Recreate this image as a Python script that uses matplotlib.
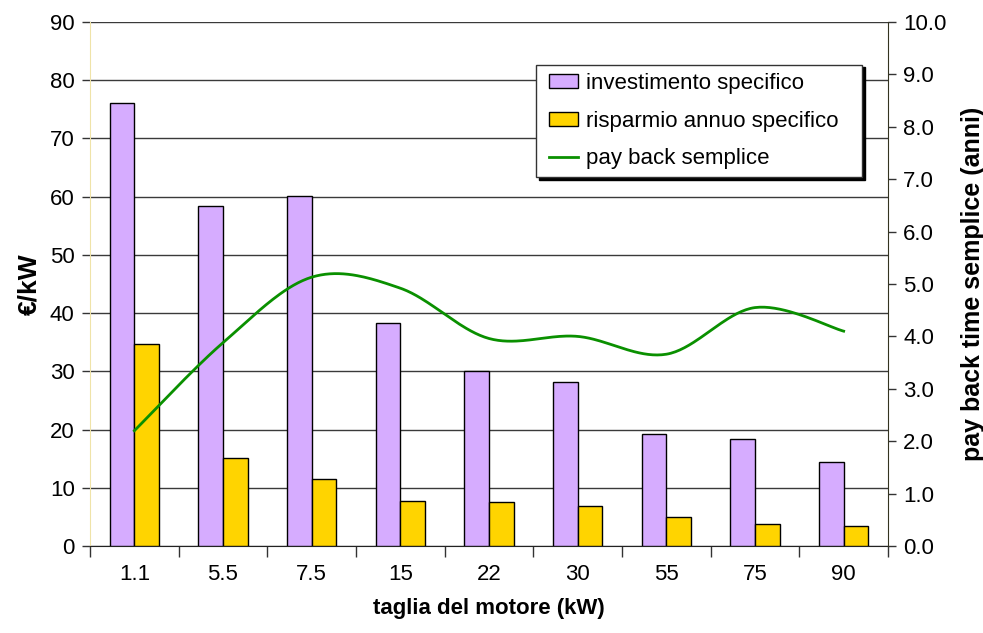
import numpy as np
import matplotlib as mpl
mpl.use("Agg")
from matplotlib import pyplot as plt
from matplotlib.patches import Patch, Rectangle
from matplotlib.lines import Line2D

plt.rcParams['font.family'] = ['Liberation Sans', 'DejaVu Sans']

# motor sizes (kW)
taglie = ["1.1", "5.5", "7.5", "15", "22", "30", "55", "75", "90"]
# specific investment and specific annual saving (EUR/kW)
investimento = [76.1, 58.4, 60.1, 38.3, 30.1, 28.1, 19.2, 18.4, 14.5]
risparmio = [34.7, 15.1, 11.5, 7.7, 7.5, 6.8, 5.0, 3.8, 3.5]
# simple pay back time (years)
payback = [2.2, 3.88, 5.13, 4.92, 3.96, 4.0, 3.66, 4.55, 4.1]

col_inv = "#D6ACFF"
col_ris = "#FFD400"
col_pb = "#0A9000"

W, H = 983, 633


def smooth_curve(x, y, n=40):
    # bezier smoothing between consecutive points (catmull-rom style)
    x = np.asarray(x, float)
    y = np.asarray(y, float)
    p = np.column_stack([x, y])
    p = np.vstack([p[0], p, p[-1]])
    out = []
    t = np.linspace(0, 1, n)
    for i in range(1, len(p) - 2):
        p0, p1, p2, p3 = p[i - 1], p[i], p[i + 1], p[i + 2]
        c1 = p1 + (p2 - p0) / 6.
        c2 = p2 - (p3 - p1) / 6.
        seg = ((1 - t) ** 3)[:, None] * p1 + (3 * (1 - t) ** 2 * t)[:, None] * c1 \
            + (3 * (1 - t) * t ** 2)[:, None] * c2 + (t ** 3)[:, None] * p2
        out.append(seg if i == 1 else seg[1:])
    out = np.vstack(out)
    return out[:, 0], out[:, 1]


fig = plt.figure(figsize=(W / 100, H / 100), dpi=100)
ax = fig.add_axes([90 / W, 1 - 546 / H, 798 / W, 524 / H])
ax2 = ax.twinx()

x = np.arange(len(taglie))
w = 0.28
ax.bar(x - w / 2, investimento, width=w, color=col_inv, edgecolor="black", lw=1, zorder=3)
ax.bar(x + w / 2, risparmio, width=w, color=col_ris, edgecolor="black", lw=1, zorder=3)

sx, sy = smooth_curve(x, payback)
ax2.plot(sx, sy, color=col_pb, lw=2)

ax.set_xlim(-0.5, len(taglie) - 0.5)
ax.set_ylim(0, 90)
ax.set_yticks(np.arange(0, 91, 10))
ax2.set_ylim(0, 10)
ax2.set_yticks(np.arange(0, 10.1, 1))
ax2.set_yticklabels(["{:.1f}".format(v) for v in np.arange(0, 10.1, 1)])

ax.set_xticks(np.arange(-0.5, len(taglie), 1))
ax.set_xticklabels([])
ax.set_xticks(x, minor=True)
ax.set_xticklabels(taglie, minor=True)
ax.tick_params(axis="x", which="major", length=8, width=1, direction="out", color="#333333")
ax.tick_params(axis="x", which="minor", length=0, labelsize=16, pad=13)
ax.tick_params(axis="y", length=6, width=1, direction="out", labelsize=16, color="#333333", pad=5)
ax2.tick_params(axis="y", length=6, width=1, direction="out", labelsize=16, color="#333333", pad=5)

ax.yaxis.grid(True, color="#3a3a3a", lw=1)
ax.set_axisbelow(True)

for a in (ax, ax2):
    a.spines["top"].set_visible(False)
ax.spines["left"].set_color("#EFE3A8")
ax2.spines["left"].set_visible(False)
ax.spines["right"].set_visible(False)
ax2.spines["right"].set_color("#333320")
ax.spines["bottom"].set_color("#222222")
ax2.spines["bottom"].set_visible(False)

ax.set_xlabel("taglia del motore (kW)", fontsize=16, fontweight="bold", labelpad=9)
ax.set_ylabel("€/kW", fontsize=19, fontweight="bold", labelpad=6)
ax2.set_ylabel("pay back time semplice (anni)", fontsize=18, fontweight="bold", labelpad=10)

# legend box with a hard black shadow
fig.patches.append(Rectangle((539 / W, 1 - 180 / H), 326 / W, 113 / H, transform=fig.transFigure,
                             facecolor="black", edgecolor="black", zorder=5))
fig.patches.append(Rectangle((536 / W, 1 - 177 / H), 326 / W, 112 / H, transform=fig.transFigure,
                             facecolor="white", edgecolor="#333333", lw=1, zorder=6))

handles = [
    Patch(facecolor=col_inv, edgecolor="black", lw=1),
    Patch(facecolor=col_ris, edgecolor="black", lw=1),
    Line2D([0], [0], color=col_pb, lw=2),
]
labels = ["investimento specifico", "risparmio annuo specifico", "pay back semplice"]
leg = fig.legend(handles, labels, loc="upper left", bbox_to_anchor=(549 / W, 1 - 73 / H),
                 fontsize=16, frameon=False, handlelength=1.3, handleheight=0.6,
                 labelspacing=0.75, borderpad=0, borderaxespad=0, handletextpad=0.35)
leg.set_zorder(7)

fig.savefig("out.png", dpi=100)
